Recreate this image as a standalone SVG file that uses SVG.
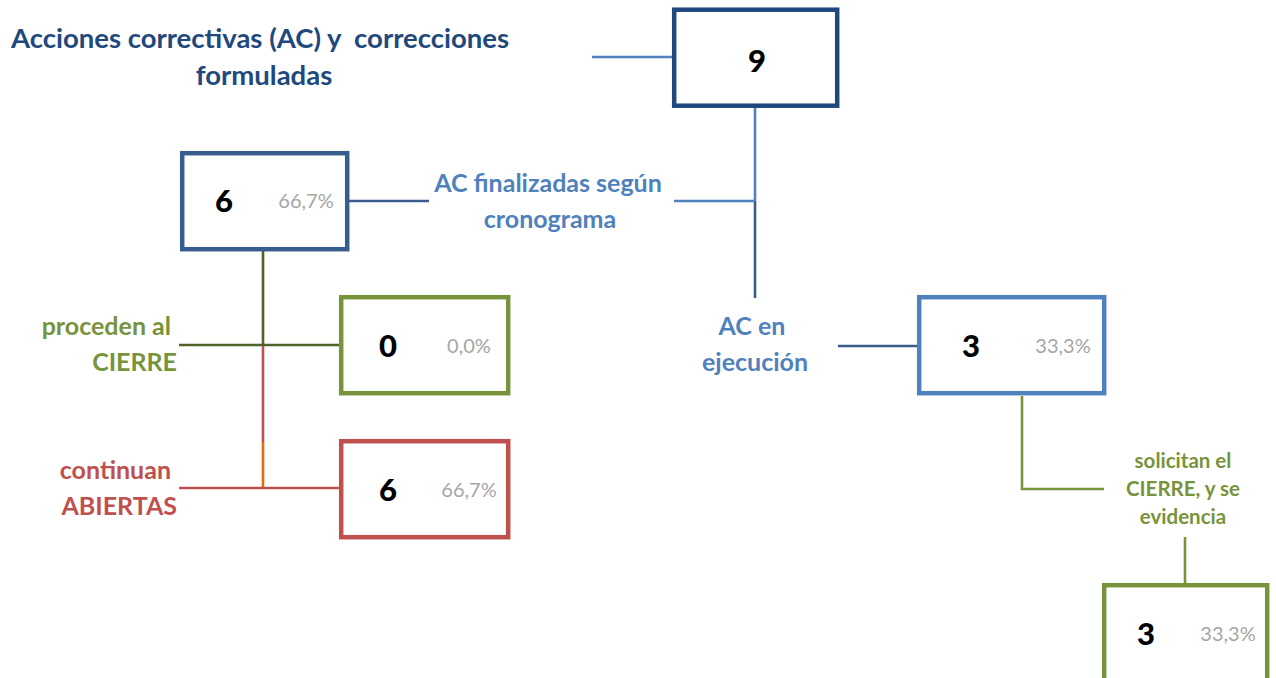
<svg xmlns="http://www.w3.org/2000/svg" width="1276" height="678" viewBox="0 0 1276 678">
<style>
text{font-family:Lato,"Open Sans","Liberation Sans",sans-serif;font-weight:bold}
.box{fill:#fff;stroke-width:4.5}
.num{font-size:31px;fill:#000;text-anchor:middle;font-weight:900}
.pct{font-size:20px;fill:#A6A6A6;font-weight:normal;text-anchor:middle}
.lbl{font-size:25px}
.c{stroke-width:2.6;fill:none}
</style>
<rect width="1276" height="678" fill="#fff"/>
<g id="title">
<text x="260" y="48" font-size="27.5" fill="#1F497D" text-anchor="middle" xml:space="preserve">Acciones correctivas (AC) y  correcciones</text>
<text x="264" y="85" font-size="27.5" fill="#1F497D" text-anchor="middle">formuladas</text>
</g>
<g id="connectors">
<line class="c" x1="592" y1="57" x2="672" y2="57" stroke="#4F81BD"/>
<line class="c" x1="755" y1="107" x2="755" y2="201" stroke="#4F81BD"/>
<line class="c" x1="755" y1="201" x2="755" y2="298" stroke="#385D8A"/>
<line class="c" x1="674" y1="201" x2="755" y2="201" stroke="#4F81BD"/>
<line class="c" x1="349" y1="201" x2="429" y2="201" stroke="#385D8A"/>
<line class="c" x1="263" y1="251" x2="263" y2="345" stroke="#4F6228"/>
<line class="c" x1="179" y1="345" x2="340" y2="345" stroke="#4F6228"/>
<line class="c" x1="263" y1="346" x2="263" y2="442" stroke="#C0504D"/>
<line class="c" x1="263" y1="442" x2="263" y2="488" stroke="#E46C0A"/>
<line class="c" x1="179" y1="488" x2="340" y2="488" stroke="#C0504D"/>
<line class="c" x1="838" y1="346" x2="917" y2="346" stroke="#385D8A"/>
<polyline class="c" points="1022,396 1022,489 1104,489" stroke="#77933C"/>
<line class="c" x1="1185" y1="537" x2="1185" y2="583" stroke="#77933C"/>
</g>
<g id="n9">
<rect class="box" x="674.2" y="9.7" width="163" height="96" stroke="#1F497D"/>
<text class="num" x="757" y="72" font-size="42">9</text>
</g>
<g id="n6a">
<rect class="box" x="182.2" y="153.2" width="165" height="96" stroke="#385D8F"/>
<text class="num" x="224" y="212">6</text>
<text class="pct" x="306" y="208">66,7%</text>
</g>
<g id="lbl-finalizadas">
<text class="lbl" x="548" y="192" fill="#4F81BD" text-anchor="middle">AC finalizadas según</text>
<text class="lbl" x="550" y="228" fill="#4F81BD" text-anchor="middle">cronograma</text>
</g>
<g id="lbl-proceden">
<text class="lbl" x="171" y="335" fill="#77933C" text-anchor="end">proceden al</text>
<text class="lbl" x="177" y="371" fill="#77933C" text-anchor="end">CIERRE</text>
</g>
<g id="n0">
<rect class="box" x="341.2" y="297.2" width="167" height="96" stroke="#77933C"/>
<text class="num" x="388" y="357">0</text>
<text class="pct" x="469" y="353">0,0%</text>
</g>
<g id="lbl-continuan">
<text class="lbl" x="171" y="479" fill="#C0504D" text-anchor="end">continuan</text>
<text class="lbl" x="177" y="515" fill="#C0504D" text-anchor="end">ABIERTAS</text>
</g>
<g id="n6b">
<rect class="box" x="341.2" y="441.2" width="167" height="96" stroke="#C0504D"/>
<text class="num" x="388" y="501">6</text>
<text class="pct" x="469" y="497">66,7%</text>
</g>
<g id="lbl-ejecucion">
<text class="lbl" x="752" y="335" fill="#4F81BD" text-anchor="middle">AC en</text>
<text class="lbl" x="755" y="371" fill="#4F81BD" text-anchor="middle">ejecución</text>
</g>
<g id="n3a">
<rect class="box" x="919.2" y="297.2" width="185" height="96" stroke="#4F81BD"/>
<text class="num" x="971" y="357">3</text>
<text class="pct" x="1063" y="353">33,3%</text>
</g>
<g id="lbl-solicitan">
<text x="1183" y="468" font-size="20.5" fill="#77933C" text-anchor="middle">solicitan el</text>
<text x="1183" y="496" font-size="20.5" fill="#77933C" text-anchor="middle">CIERRE, y se</text>
<text x="1183" y="524" font-size="20.5" fill="#77933C" text-anchor="middle">evidencia</text>
</g>
<g id="n3b">
<rect class="box" x="1104.2" y="585.2" width="163" height="110" stroke="#77933C"/>
<text class="num" x="1146" y="645">3</text>
<text class="pct" x="1228" y="641">33,3%</text>
</g>
</svg>
